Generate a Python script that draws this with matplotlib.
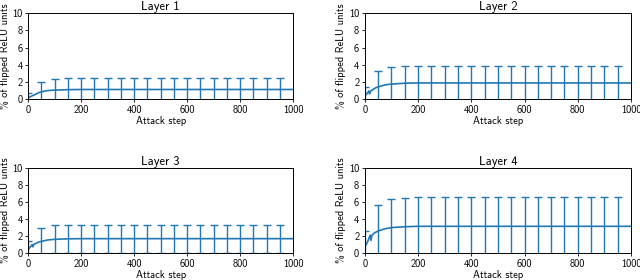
import matplotlib
matplotlib.use("Agg")
import matplotlib.pyplot as plt
import numpy as np

plt.rcParams['font.family'] = ['cmss10', 'DejaVu Sans']
plt.rcParams['axes.unicode_minus'] = False
plt.rcParams['font.size'] = 7.5

# ---- data ----
layer_titles = ["Layer 1", "Layer 2", "Layer 3", "Layer 4"]

# mean curve (steps, % flipped)
l1_steps = [0, 10, 20, 30, 40, 50, 75, 100, 150, 200, 1000]
l1_mean = [0.2, 0.3, 0.45, 0.6, 0.75, 0.85, 1.0, 1.05, 1.1, 1.12, 1.12]
l2_steps = [0, 5, 10, 15, 18, 22, 30, 40, 50, 75, 100, 150, 200, 1000]
l2_mean = [0.4, 0.55, 0.7, 0.95, 0.6, 0.95, 1.1, 1.3, 1.42, 1.65, 1.75, 1.85, 1.88, 1.88]
l3_steps = [0, 5, 10, 15, 18, 22, 30, 40, 50, 75, 100, 150, 200, 1000]
l3_mean = [0.4, 0.6, 0.8, 1.0, 0.75, 1.05, 1.15, 1.3, 1.38, 1.55, 1.62, 1.68, 1.7, 1.7]
l4_steps = [0, 5, 10, 15, 20, 23, 27, 35, 50, 75, 100, 150, 200, 1000]
l4_mean = [0.7, 1.0, 1.3, 1.7, 2.1, 1.5, 2.1, 2.35, 2.6, 2.85, 3.0, 3.1, 3.15, 3.15]

# error bars every 50 steps: mean and upper end (mean + std)
bar_steps = [0, 50, 100, 150, 200, 250, 300, 350, 400, 450,
             500, 550, 600, 650, 700, 750, 800, 850, 900, 950]
l1_bar_mean = [0.2, 0.85, 1.05, 1.1, 1.12, 1.12, 1.12, 1.12, 1.12, 1.12,
               1.12, 1.12, 1.12, 1.12, 1.12, 1.12, 1.12, 1.12, 1.12, 1.12]
l1_bar_top = [0.7, 2.0, 2.3, 2.4, 2.45, 2.45, 2.45, 2.45, 2.45, 2.45,
              2.45, 2.45, 2.45, 2.45, 2.45, 2.45, 2.45, 2.45, 2.45, 2.45]
l2_bar_mean = [0.4, 1.42, 1.75, 1.85, 1.88, 1.88, 1.88, 1.88, 1.88, 1.88,
               1.88, 1.88, 1.88, 1.88, 1.88, 1.88, 1.88, 1.88, 1.88, 1.88]
l2_bar_top = [1.4, 3.25, 3.7, 3.8, 3.85, 3.85, 3.85, 3.85, 3.85, 3.85,
              3.85, 3.85, 3.85, 3.85, 3.85, 3.85, 3.85, 3.85, 3.85, 3.85]
l3_bar_mean = [0.4, 1.38, 1.62, 1.68, 1.7, 1.7, 1.7, 1.7, 1.7, 1.7,
               1.7, 1.7, 1.7, 1.7, 1.7, 1.7, 1.7, 1.7, 1.7, 1.7]
l3_bar_top = [1.4, 2.9, 3.25, 3.35, 3.35, 3.35, 3.35, 3.35, 3.35, 3.35,
              3.35, 3.35, 3.35, 3.35, 3.35, 3.35, 3.35, 3.35, 3.35, 3.35]
l4_bar_mean = [0.7, 2.6, 3.0, 3.1, 3.15, 3.15, 3.15, 3.15, 3.15, 3.15,
               3.15, 3.15, 3.15, 3.15, 3.15, 3.15, 3.15, 3.15, 3.15, 3.15]
l4_bar_top = [2.6, 5.7, 6.4, 6.5, 6.6, 6.6, 6.6, 6.6, 6.6, 6.6,
              6.6, 6.6, 6.6, 6.6, 6.6, 6.6, 6.6, 6.6, 6.6, 6.6]

curves = [(l1_steps, l1_mean, l1_bar_mean, l1_bar_top),
          (l2_steps, l2_mean, l2_bar_mean, l2_bar_top),
          (l3_steps, l3_mean, l3_bar_mean, l3_bar_top),
          (l4_steps, l4_mean, l4_bar_mean, l4_bar_top)]

# axes rectangles in figure fraction
positions = [[0.044, 0.646, 0.414, 0.307],
             [0.570, 0.646, 0.416, 0.307],
             [0.044, 0.096, 0.414, 0.304],
             [0.570, 0.096, 0.416, 0.304]]

fig = plt.figure(figsize=(6.4, 2.8), dpi=100)
col = '#1f77b4'
for title, pos, (st, mn, bm, bt) in zip(layer_titles, positions, curves):
    ax = fig.add_axes(pos)
    ax.plot(st, mn, color=col, lw=1.2)
    err = np.array(bt) - np.array(bm)
    ax.errorbar(bar_steps, bm, yerr=err, fmt='none', ecolor=col,
                elinewidth=1.0, capsize=2.6, capthick=1.0)
    ax.set_xlim(0, 1000)
    ax.set_ylim(0, 10)
    ax.set_yticks([0, 2, 4, 6, 8, 10])
    ax.set_xticks([0, 200, 400, 600, 800, 1000])
    ax.tick_params(length=2.5, width=0.6, pad=1.5)
    for s in ax.spines.values():
        s.set_linewidth(0.7)
    ax.set_title(title, pad=2)
    ax.set_xlabel("Attack step", labelpad=1)
    ax.set_ylabel("% of flipped ReLU units", labelpad=2)

plt.savefig("out.png", dpi=100)
